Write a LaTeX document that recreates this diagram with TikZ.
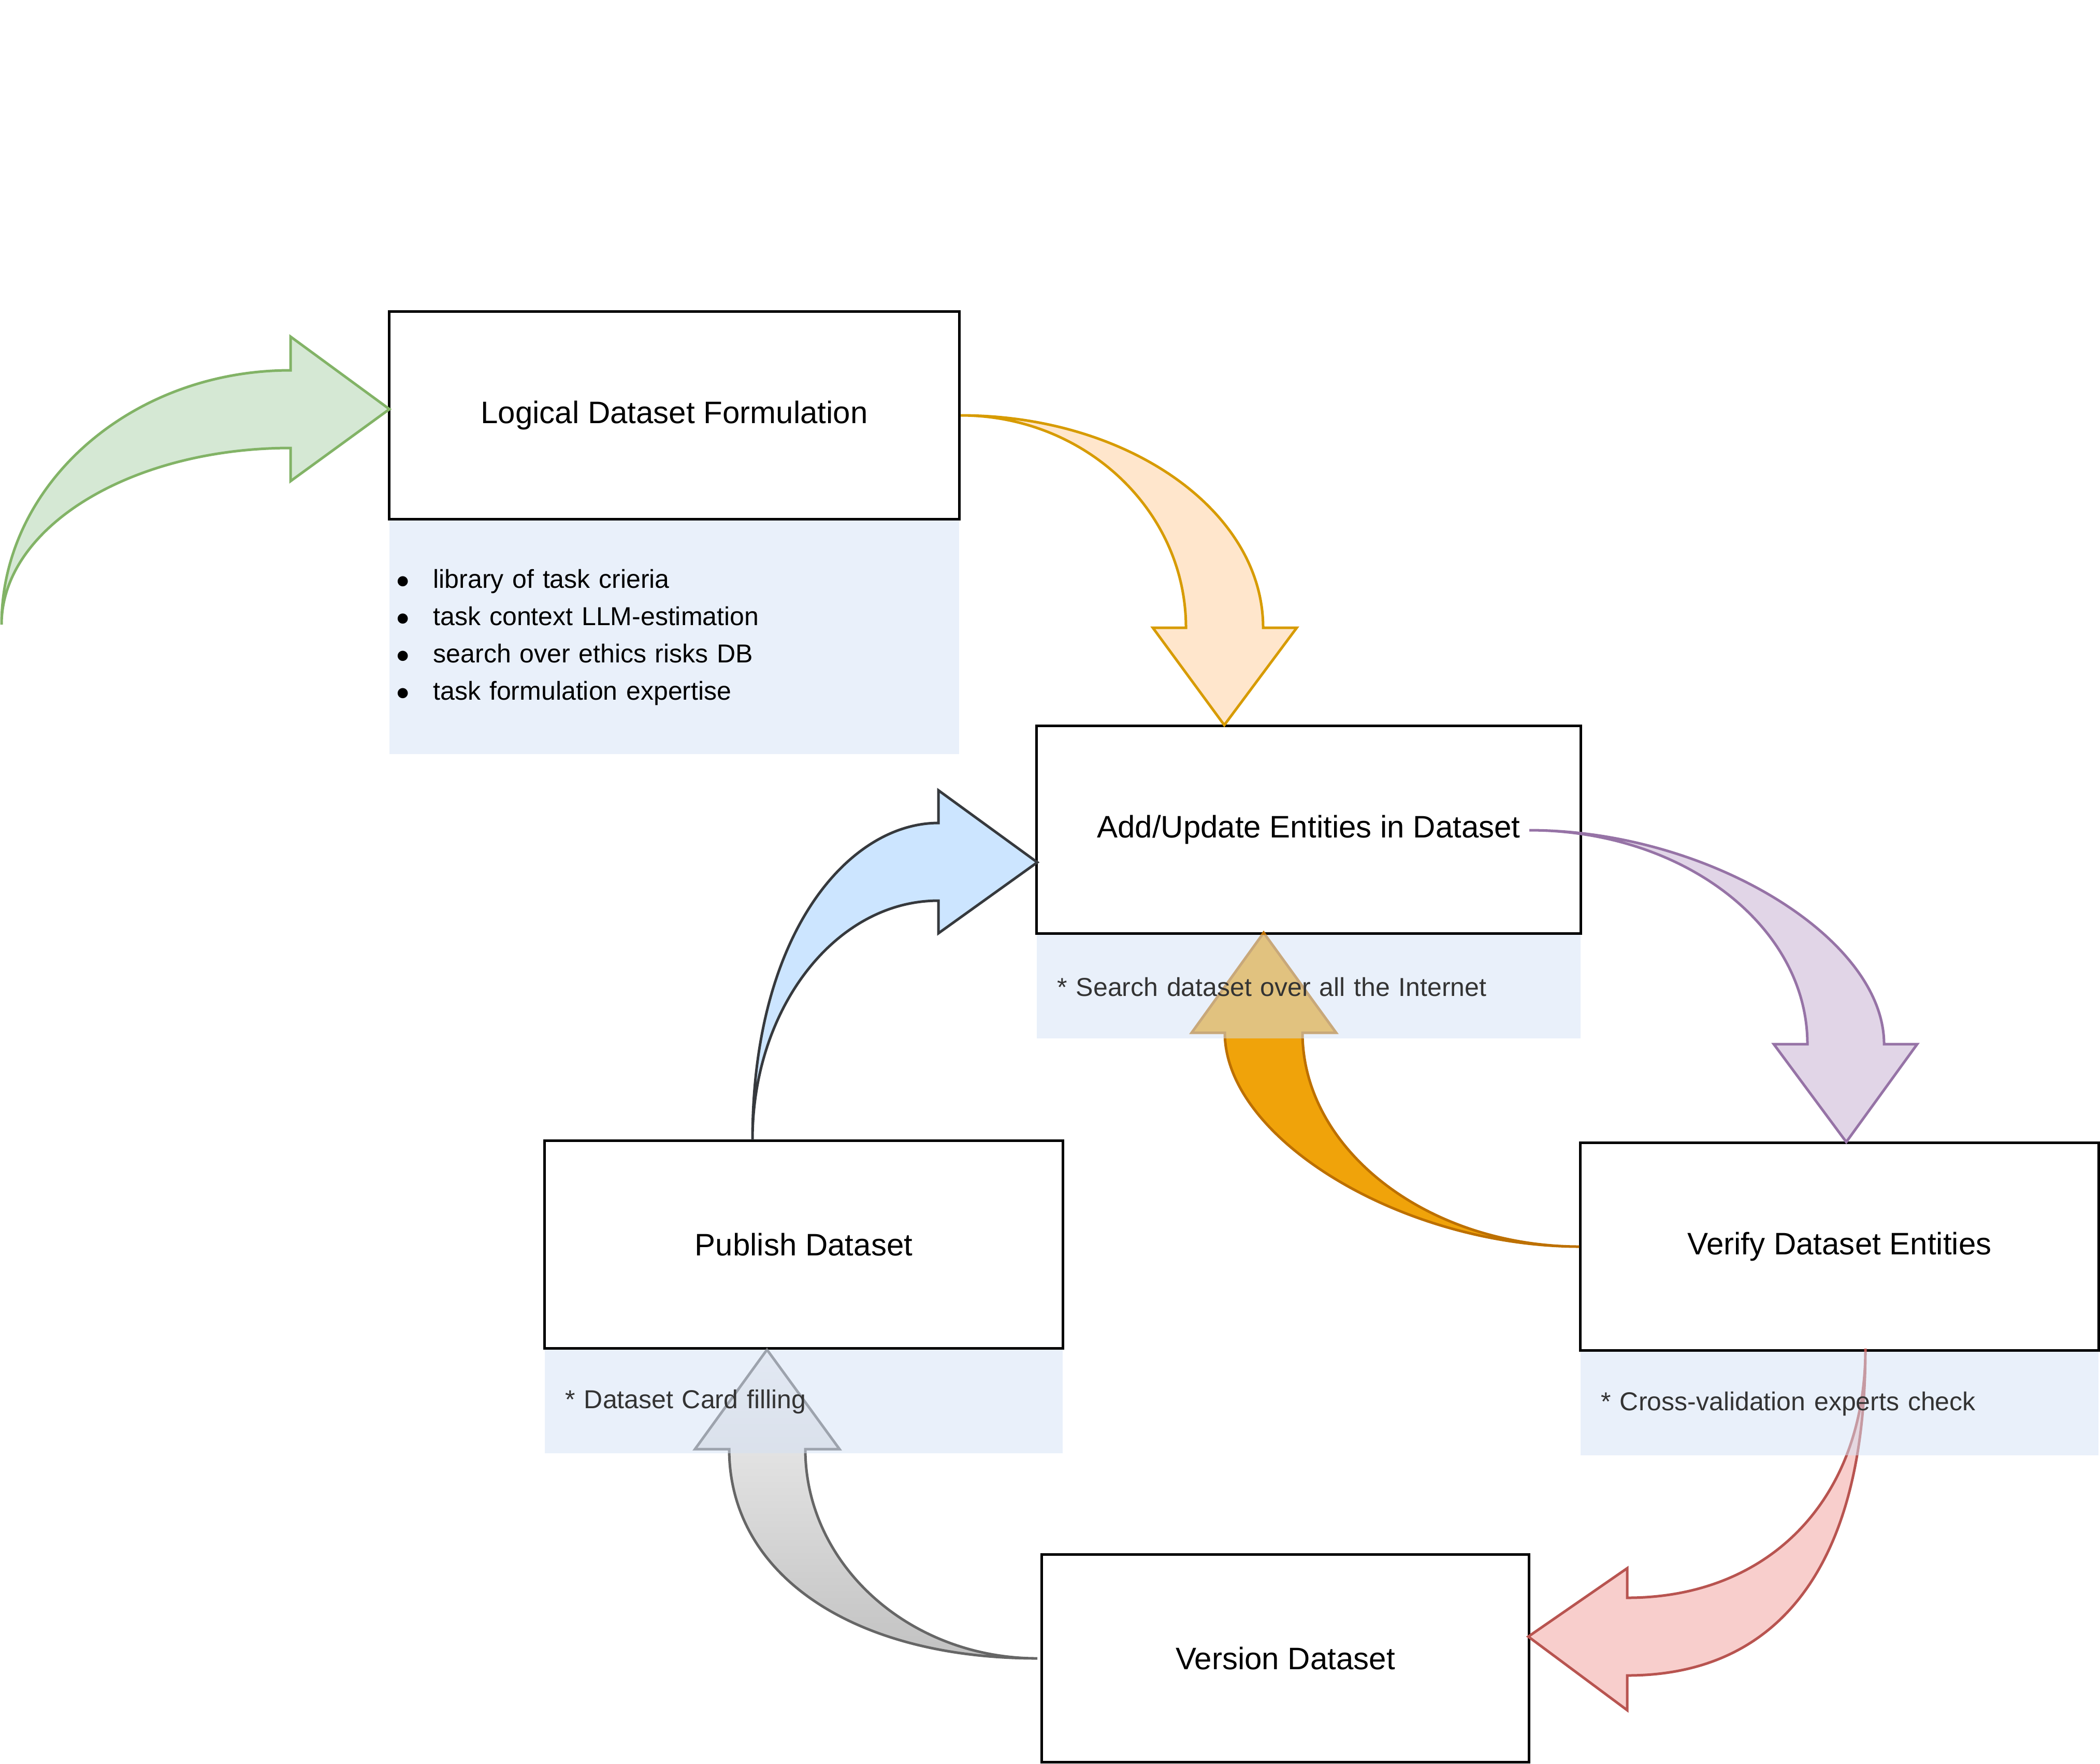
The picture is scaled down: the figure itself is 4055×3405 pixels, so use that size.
\documentclass[tikz,border=0pt]{standalone}
\usepackage{fontspec}
\setmainfont{Liberation Sans}
\usetikzlibrary{positioning}
\definecolor{greenfill}{HTML}{D5E8D4}
\definecolor{greenline}{HTML}{82B366}
\definecolor{orangefill}{HTML}{FFE6CC}
\definecolor{orangeline}{HTML}{D79B00}
\definecolor{purplefill}{HTML}{E1D5E7}
\definecolor{purpleline}{HTML}{9673A6}
\definecolor{amberfill}{HTML}{F0A30A}
\definecolor{amberline}{HTML}{BD7000}
\definecolor{redfill}{HTML}{F8CECC}
\definecolor{redline}{HTML}{B85450}
\definecolor{greytop}{HTML}{F2F2F2}
\definecolor{greybottom}{HTML}{C2C2C2}
\definecolor{greyline}{HTML}{666666}
\definecolor{bluefill}{HTML}{CCE5FF}
\definecolor{blueline}{HTML}{36393D}
\definecolor{notefill}{HTML}{D4E1F5}
\definecolor{notetext}{HTML}{333333}
\newcommand{\notebullet}{\makebox[0.71cm][l]{$\bullet$}}

\begin{document}
\begin{tikzpicture}[x=0.01cm, y=-0.01cm,
    stage/.style={draw=black, line width=1.42pt, fill=white, minimum height=4cm, inner sep=0pt,
        font=\fontsize{17.07pt}{20pt}\selectfont},
    note/.style={fill=notefill, fill opacity=0.5, text opacity=1, text=notetext, align=left,
        inner ysep=0pt, font=\fontsize{14.23pt}{20.4pt}\selectfont},
    flex/.style={line width=1.42pt, line join=miter}]
    \useasboundingbox (0,0) rectangle (4055,3405);

    \node[stage, minimum width=11cm] (logic) at (1302,802) {Logical Dataset Formulation};
    \node[stage, minimum width=10.5cm] (update) at (2527,1602) {Add/Update Entities in Dataset};
    \node[stage, minimum width=10cm] (publish) at (1552,2403) {Publish Dataset};
    \node[stage, minimum width=10cm] (verify) at (3552,2407) {Verify Dataset Entities};
    \node[stage, minimum width=9.4cm] (version) at (2482,3202) {Version Dataset};

    \draw[flex, draw=greenline, fill=greenfill] (3,1206) .. controls (3,935) and (253,715) .. (561,715)
        -- (561,650) -- (752,790) -- (561,929) -- (561,865) .. controls (253,865) and (3,1018) .. (3,1206) -- cycle;
    \draw[flex, draw=orangeline, fill=orangefill] (logic.east) .. controls (2177,802) and (2439,986) .. (2439,1212)
        -- (2504,1212) -- (2364,1400) -- (2226,1212) -- (2290,1212) .. controls (2290,986) and (2095,802) .. (logic.east) -- cycle;
    \draw[flex, draw=purpleline, fill=purplefill] (2953,1603) .. controls (3296,1603) and (3638,1810) .. (3638,2016)
        -- (3702,2016) -- (3565,2205) -- (3425,2016) -- (3490,2016) .. controls (3490,1788) and (3250,1603) .. (2953,1603) -- cycle;
    \draw[flex, draw=amberline, fill=amberfill] (verify.west) .. controls (2707,2406) and (2365,2198) .. (2365,1994)
        -- (2301,1994) -- (2440,1801) -- (2580,1994) -- (2515,1994) .. controls (2515,2219) and (2755,2406) .. (verify.west) -- cycle;
    \draw[flex, draw=redline, fill=redfill] (3602,2604) .. controls (3602,3014) and (3441,3235) .. (3142,3235)
        -- (3142,3302) -- (2951,3160) -- (3142,3028) -- (3142,3085) .. controls (3418,3085) and (3602,2893) .. (3602,2604) -- cycle;
    \draw[flex, draw=greyline, top color=greytop, bottom color=greybottom] (2003,3202) .. controls (1646,3202) and (1408,3040) .. (1408,2798)
        -- (1342,2798) -- (1481,2606) -- (1621,2798) -- (1555,2798) .. controls (1555,3021) and (1756,3202) .. (2003,3202) -- cycle;
    \draw[flex, draw=blueline, fill=bluefill] (1453,2201) .. controls (1453,1800) and (1640,1589) .. (1812,1589)
        -- (1812,1526) -- (2003,1665) -- (1812,1802) -- (1812,1739) .. controls (1614,1739) and (1453,1946) .. (1453,2201) -- cycle;

    \node[note, below=0pt of logic, minimum width=11cm, minimum height=4.5cm, inner xsep=0.14cm,
        text width=10.72cm, text=black] (logicnote)
        {\notebullet library of task crieria\\
         \notebullet task context LLM-estimation\\
         \notebullet search over ethics risks DB\\
         \notebullet task formulation expertise};
    \node[note, below=0pt of update, minimum width=10.5cm, minimum height=2cm, inner xsep=0.4cm,
        text width=9.7cm] (updatenote) {* Search dataset over all the Internet};
    \node[note, below=0pt of publish, minimum width=10cm, minimum height=2cm, inner xsep=0.4cm,
        text width=9.2cm] (publishnote) {* Dataset Card filling};
    \node[note, below=0pt of verify, minimum width=10cm, minimum height=2cm, inner xsep=0.4cm,
        text width=9.2cm] (verifynote) {* Cross-validation experts check};
\end{tikzpicture}
\end{document}
